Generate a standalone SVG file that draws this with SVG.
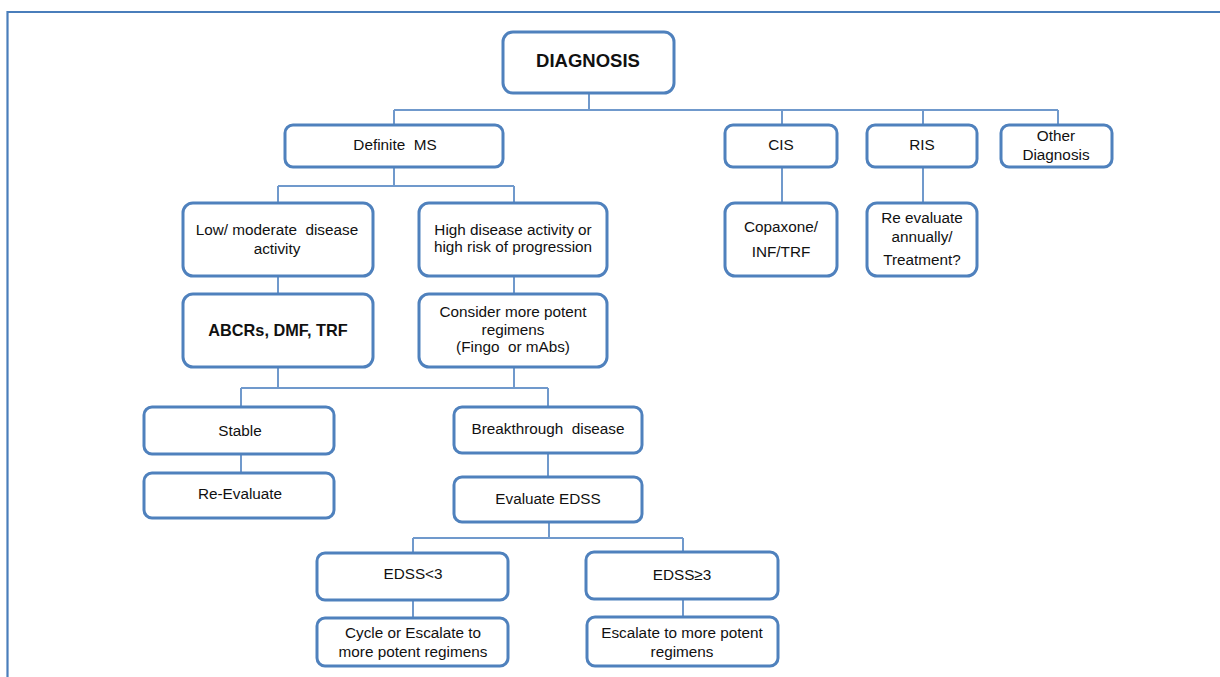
<svg xmlns="http://www.w3.org/2000/svg" width="1220" height="677" viewBox="0 0 1220 677">
<style>
.box{fill:#fff;stroke:#4f81bd;stroke-width:3}
.t{font-family:"Liberation Sans",Arial,sans-serif;font-size:15.3px;fill:#111;text-anchor:middle}
.b{font-weight:bold}
.h{font-size:18.5px}
.a{font-size:16.3px}
.c{fill:none;stroke:#7099cc;stroke-width:2}
</style>
<rect width="1220" height="677" fill="#fff"/>
<path d="M7.5 677 V12 H1220" fill="none" stroke="#4a7ebb" stroke-width="2.2"/>
<g id="connectors">
<path class="c" d="M589 93 V110 M394 110 H1058 M394 110 V125 M782 110 V125 M923 110 V125 M1058 110 V125"/>
<path class="c" d="M782 167 V203 M923 167 V203"/>
<path class="c" d="M394 167 V186 M278 186 H514 M278 186 V203 M514 186 V203"/>
<path class="c" d="M278 276 V294 M514 276 V294"/>
<path class="c" d="M278 367 V388 M514 367 V388 M241 388 H548 M241 388 V407 M548 388 V407"/>
<path class="c" d="M241 454 V473 M548 453 V477"/>
<path class="c" d="M549 522 V538 M413 538 H683 M413 538 V553 M683 538 V552"/>
<path class="c" d="M413 600 V618 M683 599 V617"/>
</g>
<g id="diagnosis"><rect class="box" x="503" y="32" width="171" height="61" rx="10"/><text class="t b h" x="588" y="67">DIAGNOSIS</text></g>
<g id="definite-ms"><rect class="box" x="285" y="125" width="218" height="42" rx="8"/><text class="t" x="395" y="150" xml:space="preserve">Definite  MS</text></g>
<g id="cis"><rect class="box" x="725" y="125" width="112" height="42" rx="8"/><text class="t" x="781" y="150">CIS</text></g>
<g id="ris"><rect class="box" x="867" y="125" width="110" height="42" rx="8"/><text class="t" x="922" y="150">RIS</text></g>
<g id="other"><rect class="box" x="1001" y="125" width="111" height="42" rx="8"/><text class="t" x="1056" y="141">Other</text><text class="t" x="1056" y="160">Diagnosis</text></g>
<g id="copaxone"><rect class="box" x="725" y="203" width="112" height="73" rx="10"/><text class="t" x="781" y="232">Copaxone/</text><text class="t" x="781" y="257">INF/TRF</text></g>
<g id="reevaluate-annually"><rect class="box" x="867" y="203" width="110" height="73" rx="10"/><text class="t" x="922" y="223">Re evaluate</text><text class="t" x="922" y="242">annually/</text><text class="t" x="922" y="265">Treatment?</text></g>
<g id="low-moderate"><rect class="box" x="183" y="203" width="190" height="73" rx="10"/><text class="t" x="277" y="235" xml:space="preserve">Low/ moderate  disease</text><text class="t" x="277" y="254">activity</text></g>
<g id="high-activity"><rect class="box" x="419" y="203" width="188" height="73" rx="10"/><text class="t" x="513" y="235">High disease activity or</text><text class="t" x="513" y="252">high risk of progression</text></g>
<g id="abcrs"><rect class="box" x="183" y="294" width="190" height="73" rx="10"/><text class="t b a" x="278" y="336">ABCRs, DMF, TRF</text></g>
<g id="consider"><rect class="box" x="419" y="294" width="188" height="73" rx="10"/><text class="t" x="513" y="317">Consider more potent</text><text class="t" x="513" y="335">regimens</text><text class="t" x="513" y="352" xml:space="preserve">(Fingo  or mAbs)</text></g>
<g id="stable"><rect class="box" x="144" y="407" width="190" height="47" rx="8"/><text class="t" x="240" y="436">Stable</text></g>
<g id="breakthrough"><rect class="box" x="454" y="407" width="188" height="46" rx="8"/><text class="t" x="548" y="434" xml:space="preserve">Breakthrough  disease</text></g>
<g id="re-evaluate"><rect class="box" x="144" y="473" width="190" height="45" rx="8"/><text class="t" x="240" y="499">Re-Evaluate</text></g>
<g id="evaluate-edss"><rect class="box" x="454" y="477" width="188" height="45" rx="8"/><text class="t" x="548" y="504">Evaluate EDSS</text></g>
<g id="edss-lt3"><rect class="box" x="317" y="553" width="191" height="47" rx="8"/><text class="t" x="413" y="579">EDSS&lt;3</text></g>
<g id="edss-ge3"><rect class="box" x="586" y="552" width="192" height="47" rx="8"/><text class="t" x="682" y="580">EDSS≥3</text></g>
<g id="cycle"><rect class="box" x="317" y="618" width="191" height="48" rx="8"/><text class="t" x="413" y="638">Cycle or Escalate to</text><text class="t" x="413" y="657">more potent regimens</text></g>
<g id="escalate"><rect class="box" x="587" y="617" width="191" height="49" rx="8"/><text class="t" x="682" y="638">Escalate to more potent</text><text class="t" x="682" y="657">regimens</text></g>
</svg>
